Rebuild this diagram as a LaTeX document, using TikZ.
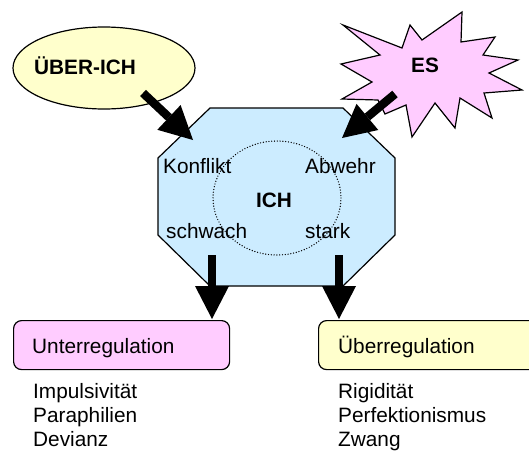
\documentclass[tikz,border=0pt]{standalone}
\usepackage{fontspec}
\setmainfont{Liberation Sans}
\usetikzlibrary{shapes.geometric,arrows.meta}
\definecolor{pinkf}{HTML}{FFCCFF}
\definecolor{yellowf}{HTML}{FFFFCC}
\definecolor{bluef}{HTML}{CCECFF}
\begin{document}
\begin{tikzpicture}[x=1pt,y=-1pt,
  txt/.style={font=\fontsize{20.8}{24}\selectfont, inner sep=0pt},
  btxt/.style={font=\fontsize{20.8}{24}\selectfont\bfseries, inner sep=0pt},
  outline/.style={draw=black, line width=1.2pt},
  bigarrow/.style={line width=8.5pt, -{Triangle[width=34pt,length=33pt,line width=0pt]}},
  boxnode/.style={outline, rounded corners=8pt, minimum height=49pt, anchor=north west, inner sep=0pt}
]
\useasboundingbox (0,0) rectangle (529,450);

% ICH octagon
\draw[outline, fill=bluef] (210,108) -- (343,108) -- (395,158) -- (395,235) -- (343,286) -- (210,286) -- (158,235) -- (158,158) -- cycle;
\coordinate (ich) at (276.5,197);
\draw[line width=1.4pt, line cap=round, dash pattern=on 0pt off 2.8pt] (277,198) ellipse [x radius=64, y radius=57];
\node[btxt, anchor=base] (ichtxt) at (274,207) {ICH};
\node[txt, anchor=base west] (konflikt) at (163,173) {Konflikt};
\node[txt, anchor=base west] (abwehr) at (305,173) {Abwehr};
\node[txt, anchor=base west] (schwach) at (166,238) {schwach};
\node[txt, anchor=base west] (stark) at (305,238) {stark};

% UEBER-ICH ellipse
\node[ellipse, outline, fill=yellowf, minimum width=182pt, minimum height=82pt, inner sep=0pt] (ueber) at (104,68) {};
\node[btxt] (uebertxt) at (85,66) {ÜBER-ICH};

% ES starburst
\draw[outline, fill=pinkf] (343,25) -- (402,48) -- (410,25) -- (422,40) -- (462,12) -- (461,42) -- (495,37) -- (483,55) -- (518,60) -- (489,73) -- (522,90) -- (484,93) -- (492,118) -- (460,98) -- (455,128) -- (435,103) -- (412,137) -- (406,105) -- (385,114) -- (378,100) -- (342,99) -- (372,82) -- (341,64) -- (380,55) -- cycle;
\coordinate (es) at (430,75);
\node[btxt] (estxt) at (425,65) {ES};

% result boxes
\node[boxnode, fill=pinkf, minimum width=216pt] (unter) at (13,320) {};
\node[boxnode, fill=yellowf, minimum width=225pt] (ueberreg) at (318,320) {};
\node[txt, anchor=base west] (untertxt) at (32,353) {Unterregulation};
\node[txt, anchor=base west] (uebertxt2) at (338,353) {Überregulation};

\node[txt, anchor=base west] (l1) at (33,398) {Impulsivität};
\node[txt, anchor=base west] (l2) at (33,422) {Paraphilien};
\node[txt, anchor=base west] (l3) at (33,446) {Devianz};
\node[txt, anchor=base west] (r1) at (338,398) {Rigidität};
\node[txt, anchor=base west] (r2) at (338,422) {Perfektionismus};
\node[txt, anchor=base west] (r3) at (338,446) {Zwang};

% arrows
\coordinate (a1s) at (143,93);
\coordinate (a1e) at (193,140);
\coordinate (a2s) at (395,94);
\coordinate (a2e) at (342,138);
\coordinate (a3s) at (212,255);
\coordinate (a3e) at (212,319);
\coordinate (a4s) at (339,255);
\coordinate (a4e) at (339,319);
\draw[bigarrow] (a1s) -- (a1e);
\draw[bigarrow] (a2s) -- (a2e);
\draw[bigarrow] (a3s) -- (a3e);
\draw[bigarrow] (a4s) -- (a4e);
\end{tikzpicture}
\end{document}
